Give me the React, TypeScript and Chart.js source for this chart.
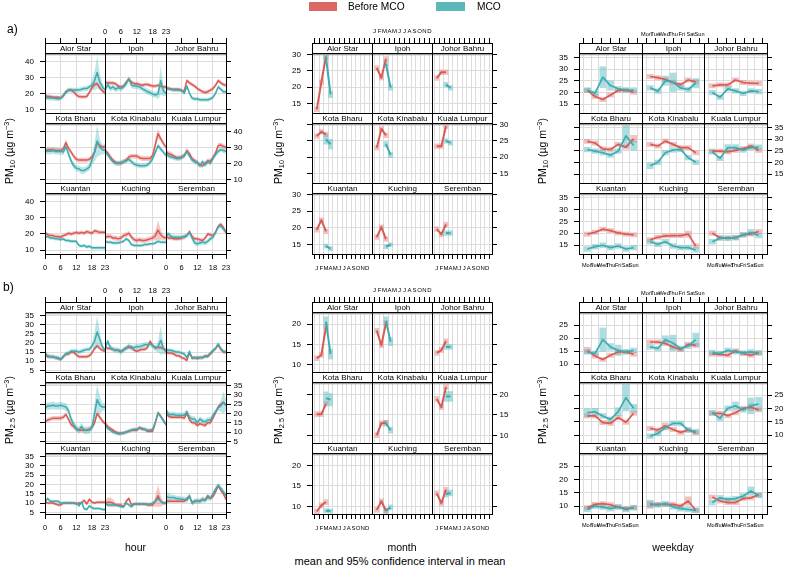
import React, { useEffect, useRef } from "react";
import { Chart, registerables } from "chart.js";

Chart.register(...registerables);

// ---------------- data ----------------
const cities = ["Alor Star", "Ipoh", "Johor Bahru", "Kota Bharu", "Kota Kinabalu", "Kuala Lumpur", "Kuantan", "Kuching", "Seremban"];
const seriesNames = ["Before MCO", "MCO"];
const hours = [0, 1, 2, 3, 4, 5, 6, 7, 8, 9, 10, 11, 12, 13, 14, 15, 16, 17, 18, 19, 20, 21, 22, 23];
const hourTicks = [0, 6, 12, 18, 23];
const monthTicks = [1, 2, 3, 4, 5, 6, 7, 8, 9, 10, 11, 12];
const monthTickLabels = ["J", "F", "M", "A", "M", "J", "J", "A", "S", "O", "N", "D"];
const monthsBefore = [1, 2, 3];
const monthsMco = [3, 4];
const weekdays = [1, 2, 3, 4, 5, 6, 7];
const weekdayTickLabels = ["Mon", "Tue", "Wed", "Thu", "Fri", "Sat", "Sun"];
const pm10HourTicks = [10, 20, 30, 40];
const pm10MonthTicks = [15, 20, 25, 30];
const pm10DayTicks = [15, 20, 25, 30, 35];
const pm25HourTicks = [5, 10, 15, 20, 25, 30, 35];
const pm25MonthTicks = [10, 15, 20];
const pm25DayTicks = [10, 15, 20, 25];

const pm10HourBefore = [
  [19, 18, 18, 17.5, 17.5, 17.5, 17, 18.5, 21, 22, 22, 21, 19, 18, 17.8, 17.8, 18, 20.5, 23.5, 25.5, 26, 23.5, 21.5, 20],
  [27, 26.5, 26.5, 26.5, 26, 24.5, 24, 24.5, 27, 29, 27, 26, 26, 25.5, 25, 25.5, 25.5, 25, 24.5, 24.5, 25, 24.5, 24, 24],
  [23, 23, 22.5, 22.5, 22.5, 22.5, 21.5, 21.5, 28, 26.5, 25.5, 24.5, 23, 22, 21, 20.5, 21, 22, 23, 25, 28, 26.5, 25.5, 25],
  [27, 28.5, 28.5, 28.5, 28, 28, 28, 29, 33, 29.5, 27, 24.5, 22.5, 22, 22, 22, 22, 22.5, 24, 27, 33, 31, 30, 30.5],
  [28, 26.5, 24, 22, 20.5, 20, 20, 21, 22, 24, 24.5, 24.5, 24.5, 23.5, 23, 23, 23, 23, 25, 32, 38.5, 35.5, 32.5, 30],
  [27.5, 26, 25.5, 24.5, 23.5, 23.5, 24, 25, 28, 26, 23, 21.5, 20.5, 19, 18.5, 20, 21.5, 21.5, 23.5, 26.5, 31, 31.5, 30.5, 30],
  [21, 19.5, 19, 19, 18.5, 18.5, 18, 19, 19.5, 20.5, 20, 20.5, 21, 20.5, 21, 20.5, 21.5, 21, 20.5, 22, 21.5, 21, 21, 21],
  [18, 18.5, 18.5, 17.5, 17.5, 17, 17.5, 19, 19.5, 20.5, 18, 16.5, 16, 16.5, 16, 16, 16.5, 17, 17.5, 19, 22.5, 19.5, 18, 17.5],
  [18.5, 17.5, 17.5, 17, 17, 17, 17.5, 18.5, 19, 21.5, 18.5, 17, 17, 16.5, 16, 17.5, 20, 19.5, 19, 21, 24.5, 26, 24, 21],
];
const pm10HourMco = [
  [18, 17, 17, 17, 16.8, 16.5, 17, 18.5, 20.5, 22, 22, 22, 22, 22, 22.5, 23, 23, 24, 25, 28, 33, 27, 24, 22],
  [22, 25.5, 23, 24, 22.5, 23.5, 23, 24, 26, 29, 25, 24.5, 24.5, 24, 23, 22, 21, 20.5, 19.5, 19, 19.5, 28, 21.5, 20],
  [23, 23, 22.5, 22, 22, 22, 22, 20, 24.5, 20, 17, 16.5, 16.5, 16, 16, 16, 16, 16.5, 17.5, 20, 24, 22.5, 21, 21],
  [28, 27.5, 27.5, 28, 27.5, 27.5, 27.5, 27, 30.5, 26, 21.5, 18.5, 17, 16.5, 15.5, 15.5, 16.5, 17.5, 22, 27, 34, 30, 28.5, 28],
  [27, 25.5, 23, 21, 20, 20, 20.5, 21, 21.5, 22.5, 21, 19.5, 19, 18.5, 18.5, 18.5, 19, 20.5, 23, 27, 31, 29, 27, 25],
  [26.5, 24.5, 24, 23.5, 23, 23, 23.5, 24.5, 27.5, 24.5, 22, 21, 20.5, 18.5, 21, 19, 21, 20, 23, 25.5, 27.5, 28.5, 28, 27.5],
  [18, 18.5, 17.5, 17.5, 17, 17, 16.5, 17, 16, 16, 15.5, 15.5, 15.5, 13, 12.5, 13, 12, 12.5, 11.5, 11.5, 11.5, 11.5, 11.5, 11.5],
  [15.5, 15, 15, 14.5, 14.5, 14.5, 15, 15.5, 17, 16, 13.5, 13, 13, 13, 13, 13.5, 13.5, 14, 14, 14.5, 15.5, 15, 15, 15],
  [19, 20, 18.5, 18, 18, 18, 18, 18, 19, 21, 17.5, 14.5, 14, 14.5, 15, 14.5, 15.5, 17, 18, 21, 24.5, 25, 23, 21],
];
const pm10HourCiBefore = [1.2, 1.2, 1.2, 1.5, 1.5, 1.5, 1.2, 1.5, 1.2];
const pm10HourCiMco = [1.5, 1.8, 1.2, 2, 1.5, 1.5, 1, 1, 1.5];
const pm10HourCiWideBefore = [[], [], [], [[8, 2]], [[19, 3], [20, 3]], [], [], [[19, 3], [20, 6], [21, 3]], []];
const pm10HourCiWideMco = [
  [[18, 3], [19, 6], [20, 10], [21, 5], [22, 2.5]],
  [[20, 3], [21, 9], [22, 3]],
  [],
  [[18, 3], [19, 6], [20, 10], [21, 5], [22, 3]],
  [], [], [], [], [],
];

const pm25HourBefore = [
  [13.5, 12.5, 12.5, 12.5, 12, 11.5, 11, 12.5, 14, 14, 15, 15, 13.5, 12.5, 12.5, 12.5, 12.5, 13, 14.5, 17, 18.5, 17, 16, 15.5],
  [18, 17, 17, 16.5, 16, 16, 15.5, 16, 17.5, 17.5, 18, 16, 15.5, 16, 16.5, 16.5, 17.5, 21, 18.5, 17.5, 17.5, 17.5, 17, 16],
  [15, 14.5, 14.5, 14, 13, 13, 12, 11.5, 10.5, 14.5, 12, 12, 11.5, 12, 12, 13, 12.5, 14, 15.5, 17, 19, 16.5, 15, 15],
  [15.5, 16.5, 17, 17.5, 17.5, 17.5, 17.5, 18, 19.5, 17, 14, 13, 11.5, 11, 11, 11, 11, 11.5, 12.5, 15, 20, 18, 16, 14.5],
  [15, 13, 12, 11, 10, 9.5, 9.5, 9.5, 10, 10.5, 11, 11, 11, 12.5, 11.5, 11.5, 10.5, 10.5, 10.5, 15, 20.5, 18.5, 16.5, 14],
  [20, 18.5, 18, 18, 18, 18, 18, 17.5, 20, 16.5, 15, 15, 13.5, 14.5, 14, 13.5, 15, 15, 17.5, 20.5, 23.5, 25, 26, 24.5],
  [10.5, 10, 10, 10, 9.5, 9, 9, 10, 10, 10, 10, 10, 9.5, 10, 10, 11.5, 9.5, 12, 10.5, 10, 10.5, 10.5, 10.5, 10.5],
  [10, 10.5, 10.5, 10, 9, 9, 9, 8, 11, 12.5, 9, 9.5, 9.5, 9.5, 9.5, 9.5, 9, 9, 9, 11, 14, 11, 10, 10],
  [11, 11, 11, 11, 11, 11, 11, 11, 12.5, 13.5, 10, 11, 11, 11, 12, 11.5, 14, 12.5, 13.5, 16, 19.5, 17, 15, 12],
];
const pm25HourMco = [
  [14.5, 13, 12.5, 12.5, 12, 12, 11, 12.5, 14, 14.5, 15.5, 15.5, 15.5, 15, 15.5, 16, 16.5, 16.5, 18.5, 21, 26, 22, 18, 16],
  [17, 21, 17.5, 16.5, 16, 16, 15, 16.5, 17, 18.5, 17, 17.5, 18, 18, 18.5, 19, 19, 19.5, 18.5, 17, 18, 21.5, 17, 15],
  [16.5, 16, 16, 15.5, 15, 15, 14.5, 14, 12, 15.5, 11.5, 12, 12, 12, 12, 12.5, 13, 14.5, 16, 17, 19.5, 17, 15.5, 15],
  [23, 24, 24, 24.5, 24, 24, 24.5, 24, 23.5, 21.5, 17, 14, 12, 11, 13, 11, 11, 11, 12.5, 20, 27.5, 24.5, 23.5, 23.5],
  [14, 12, 11, 10, 9.5, 9, 9, 9.5, 10, 10.5, 11, 11.5, 11.5, 12, 12, 11.5, 11, 11, 11.5, 15.5, 20, 18.5, 16, 14],
  [22, 19.5, 19.5, 19.5, 19, 19, 19, 19, 21, 18, 17, 17, 15, 17, 16, 15.5, 16.5, 16.5, 19, 21, 23, 24, 26, 24.5],
  [10.5, 12.5, 11, 11, 11, 11, 10, 10, 10, 10, 10, 10, 10, 8.5, 10.5, 7, 6.5, 8.5, 7.5, 7, 7, 7, 6.5, 6.5],
  [10, 9, 9, 9, 9, 8.5, 8, 8, 10, 9, 8, 9.5, 9.5, 9.5, 9.5, 9.5, 9.5, 9.5, 10, 11, 12.5, 11, 10, 10],
  [13.5, 13, 13, 13, 12.5, 12.5, 12, 12, 11.5, 14, 10, 11, 11, 11, 12, 11.5, 13, 12.5, 15, 17.5, 19.5, 18, 16, 14],
];
const pm25HourCiBefore = [1, 1, 1, 1.2, 1, 1, 0.8, 1, 1];
const pm25HourCiMco = [1.2, 1.5, 1, 2, 1, 1.5, 0.8, 0.8, 1.5];
const pm25HourCiWideBefore = [[], [], [], [], [], [], [], [[1, 2.5], [2, 2.5], [3, 2], [19, 3], [20, 6], [21, 3]], []];
const pm25HourCiWideMco = [
  [[19, 5], [20, 9], [21, 4]],
  [[20, 3], [21, 8], [22, 3]],
  [],
  [[19, 6], [20, 8], [21, 5]],
  [],
  [[21, 3], [22, 6], [23, 3]],
  [], [],
  [[0, 3], [1, 2.5]],
];

const pm10MonthBefore = [[13.2, 21.6, 29.4], [25.9, 22.9, 28.7], [22.8, 24.6, 24.6], [26.5, 27.8, 27], [22.9, 28.7, 26.7], [23.4, 23.4, 29.5], [19.4, 22.3, 18.9], [17.2, 20.2, 16.6], [19.6, 18, 21]];
const pm10MonthMco = [[29.2, 17.8], [27.2, 19.9], [20.8, 19.8], [25.5, 24], [24, 20.7], [25, 24.4], [14.5, 13.7], [14.3, 14.9], [18.4, 18.4]];
const pm10MonthCiBefore = [0.7, 0.7, 0.7, 0.7, 0.7, 0.7, 0.7, 0.7, 0.7];
const pm10MonthCiMco = [1, 0.8, 0.7, 1.5, 0.8, 0.7, 0.6, 0.6, 0.7];
const pm25MonthBefore = [[11.6, 12.4, 19.3], [18.4, 14.8, 20.3], [12.9, 13.6, 15.8], [15.2, 15.2, 17.7], [10.1, 13, 13.1], [18.9, 16.9, 21.8], [8.8, 10.3, 11.1], [9.2, 11.3, 9], [13.2, 10.8, 14.1]];
const pm25MonthMco = [[20.6, 12.6], [20.8, 15.7], [14.4, 14.4], [19.1, 18.7], [13, 11.3], [19.5, 19.5], [9, 8.9], [9, 9.8], [13, 13.3]];
const pm25MonthCiBefore = [0.6, 0.6, 0.6, 0.6, 0.6, 0.6, 0.6, 0.6, 0.6];
const pm25MonthCiMco = [1.2, 1, 0.6, 1.5, 0.7, 1.2, 0.5, 0.6, 0.7];

const pm10DayBefore = [
  [20.9, 18.3, 17, 18.9, 20.9, 21, 20.1],
  [26.9, 26.4, 25.6, 24.4, 23.4, 25.4, 24.6],
  [22.9, 23.3, 23.3, 25.4, 24.3, 24, 23.9],
  [29.1, 28.4, 25.9, 25.6, 27.8, 26.6, 30.2],
  [27.8, 27.1, 29.2, 27.8, 26.4, 26.4, 24.2],
  [24.9, 24.9, 24.6, 25.2, 26, 27.1, 25.2],
  [19.6, 20.4, 21.7, 21.1, 20.1, 19.6, 19.3],
  [17.2, 18.3, 18.9, 19, 19, 19.6, 14.6],
  [20, 18.1, 17.9, 18.1, 19.3, 19.7, 20.7],
];
const pm10DayMco = [
  [21.1, 19.7, 26.6, 23, 21.6, 21.1, 21.1],
  [22, 20.6, 25.1, 24.4, 22, 21.3, 24],
  [20, 18, 21.6, 20.7, 19.6, 20.7, 20.4],
  [25.6, 24.9, 24.2, 23.2, 24.9, 31.5, 27.3],
  [18.6, 20.1, 24.2, 25.4, 25.6, 22.1, 20.1],
  [24.6, 21.8, 26.4, 26.4, 25.4, 26.4, 26.6],
  [13.3, 14.3, 14.9, 13.9, 14.6, 13.3, 13.9],
  [16.4, 15.3, 16.4, 14.6, 13.9, 13.9, 12.9],
  [16.4, 17.9, 17.9, 18.1, 19.3, 20.3, 19],
];
const pm10DayCiBefore = 0.9;
const pm10DayCiMco = 1.0;
const pm10DayCiWideBefore = [[], [], [], [[6, 1.5]], [], [], [], [[5, 1.3]], []];
const pm10DayCiWideMco = [[[2, 4.5], [3, 2]], [[2, 2], [3, 4], [6, 2]], [], [[5, 5], [6, 2]], [[0, 1.3]], [[2, 1.3], [3, 1.3]], [], [], [[5, 1.3]]];

const pm25DayBefore = [
  [15.3, 13.1, 11.8, 13.4, 14.7, 14.7, 13.8],
  [18.5, 18.5, 17.9, 16.6, 15.6, 17.6, 17.2],
  [13.8, 13.8, 13.4, 15.1, 14.1, 13.4, 14.3],
  [17.2, 17.2, 14.7, 14.4, 16.6, 14.8, 18.2],
  [12.5, 11.9, 13.4, 12.1, 11, 11.9, 10.9],
  [18.2, 18.2, 17.3, 18.4, 20.1, 20.5, 19.5],
  [9.4, 10.6, 10.9, 10.5, 9.6, 9, 9.4],
  [10.4, 10.6, 10.6, 10.6, 10, 11.9, 8.4],
  [13.4, 11.9, 11.3, 11.3, 12.8, 13.1, 14.2],
];
const pm25DayMco = [
  [14.7, 14.1, 19.4, 16.6, 15.3, 14.7, 15.3],
  [16.6, 16, 19.4, 18.1, 16, 16.9, 19.4],
  [14.5, 14.1, 15.3, 14.7, 14.3, 14.7, 14.3],
  [18.4, 18.8, 17.2, 15.9, 18.8, 24.1, 20.1],
  [9.6, 10.6, 12.8, 14.4, 14.4, 11.9, 11.3],
  [18.4, 16.3, 20.1, 21, 19.5, 21, 21.7],
  [8.7, 10, 9.6, 9, 9.7, 8.7, 9.4],
  [10.9, 10.4, 10.9, 9.7, 9, 8.7, 8.4],
  [11.3, 13.1, 12.5, 12.8, 13.8, 15.7, 14],
];
const pm25DayCiBefore = 0.8;
const pm25DayCiMco = 0.9;
const pm25DayCiWideBefore = [[[0, 1.2]], [], [], [], [[2, 1.2]], [[5, 1.3]], [], [[0, 1.3], [5, 1.6]], []];
const pm25DayCiWideMco = [[[2, 4.5], [3, 1.3], [4, 2]], [[2, 1.5], [3, 3], [6, 2.5]], [], [[0, 1.5], [1, 1.3], [4, 1.5], [5, 5], [6, 1.5]], [], [[3, 1.5], [5, 3], [6, 2.5]], [], [[0, 1.3]], [[5, 1.5]]];

// ---------------- styling / layout ----------------
const FONT = "'Liberation Sans', Arial, Helvetica, sans-serif";
const STRIP = 10;
const ML = 36, MR = 36, MT = 24, MB = 24, TL = 5;
const BLACK = "#000000";
const GRID = "#dcdcdc";
const RED = "#da5a54";
const TEAL = "#3eabb0";
const RED_BAND = "rgba(228,110,104,0.38)";
const TEAL_BAND = "rgba(80,186,191,0.38)";
const RED_BAR = "rgba(228,118,112,0.45)";
const TEAL_BAR = "rgba(88,190,195,0.5)";
const RED_KEY = "#dc6862";
const TEAL_KEY = "#5cb7bb";
const YFONT = 8;
const ROWS_A = [43, 113, 183, 254];
const ROWS_B = [302, 372, 443, 514];

const KINDS: any = {
  hour: { xmin: 0, xmax: 23, xticks: hourTicks, label: (v: number) => String(v), font: 7.5, topPad: 1.8, botPad: 4.4, lineW: 1.5 },
  month: { xmin: 0.5, xmax: 12.5, xticks: monthTicks, label: (v: number) => monthTickLabels[v - 1], font: 6, topPad: 2.7, botPad: 6, lineW: 2, barW: 4 },
  weekday: { xmin: 0.5, xmax: 7.5, xticks: weekdays, label: (v: number) => weekdayTickLabels[v - 1], font: 5.6, topPad: 0.6, botPad: 3.4, lineW: 1.7, barW: 6 },
};

const GROUPS: any[] = [
  { kind: "hour", pol: "pm10", x0: 45, w: 181, rows: ROWS_A, ymin: 7.7, ymax: 45.2, yticks: pm10HourTicks },
  { kind: "month", pol: "pm10", x0: 311.7, w: 180.6, rows: ROWS_A, ymin: 12.1, ymax: 30.5, yticks: pm10MonthTicks },
  { kind: "weekday", pol: "pm10", x0: 578.7, w: 188.6, rows: ROWS_A, ymin: 11.2, ymax: 37, yticks: pm10DayTicks },
  { kind: "hour", pol: "pm25", x0: 45, w: 181, rows: ROWS_B, ymin: 4.1, ymax: 37, yticks: pm25HourTicks },
  { kind: "month", pol: "pm25", x0: 311.7, w: 180.6, rows: ROWS_B, ymin: 8.2, ymax: 23, yticks: pm25MonthTicks },
  { kind: "weekday", pol: "pm25", x0: 578.7, w: 188.6, rows: ROWS_B, ymin: 7, ymax: 30, yticks: pm25DayTicks },
];

function ciAt(base: number, wide: number[][], i: number) {
  for (const s of wide) if (s[0] === i) return s[1];
  return base;
}

const pts = (xs: number[], ys: number[]) => xs.map((x, i) => ({ x, y: ys[i] }));

function lineDs(xs: number[], ys: number[], color: string, w: number, order: number, label: string) {
  return { type: "line", label, data: pts(xs, ys), borderColor: color, borderWidth: w, pointRadius: 0, fill: false, tension: 0, order, borderJoinStyle: "round" };
}

function bandDs(xs: number[], ys: number[], hw: number[], color: string, order: number) {
  return [
    { type: "line", data: xs.map((x, i) => ({ x, y: ys[i] + hw[i] })), borderWidth: 0, pointRadius: 0, fill: false, order, tension: 0 },
    { type: "line", data: xs.map((x, i) => ({ x, y: ys[i] - hw[i] })), borderWidth: 0, pointRadius: 0, fill: "-1", backgroundColor: color, order, tension: 0 },
  ];
}

function barDs(xs: number[], ys: number[], hw: number[], color: string, w: number, order: number) {
  return {
    type: "bar",
    data: xs.map((x, i) => ({ x, y: [ys[i] - hw[i], ys[i] + hw[i]] })),
    backgroundColor: color, borderWidth: 0, barThickness: w, grouped: false, order,
  };
}

function datasetsFor(g: any, idx: number) {
  const K = KINDS[g.kind];
  if (g.kind === "hour") {
    const b = g.pol === "pm10" ? pm10HourBefore[idx] : pm25HourBefore[idx];
    const m = g.pol === "pm10" ? pm10HourMco[idx] : pm25HourMco[idx];
    const bBase = g.pol === "pm10" ? pm10HourCiBefore[idx] : pm25HourCiBefore[idx];
    const mBase = g.pol === "pm10" ? pm10HourCiMco[idx] : pm25HourCiMco[idx];
    const bWide = g.pol === "pm10" ? pm10HourCiWideBefore[idx] : pm25HourCiWideBefore[idx];
    const mWide = g.pol === "pm10" ? pm10HourCiWideMco[idx] : pm25HourCiWideMco[idx];
    const bhw = hours.map((_, i) => ciAt(bBase, bWide as any, i));
    const mhw = hours.map((_, i) => ciAt(mBase, mWide as any, i));
    return [
      ...bandDs(hours, b, bhw, RED_BAND, 4),
      ...bandDs(hours, m, mhw, TEAL_BAND, 3),
      lineDs(hours, b, RED, K.lineW, 2, seriesNames[0]),
      lineDs(hours, m, TEAL, K.lineW, 1, seriesNames[1]),
    ];
  }
  if (g.kind === "month") {
    const b = g.pol === "pm10" ? pm10MonthBefore[idx] : pm25MonthBefore[idx];
    const m = g.pol === "pm10" ? pm10MonthMco[idx] : pm25MonthMco[idx];
    const bh = g.pol === "pm10" ? pm10MonthCiBefore[idx] : pm25MonthCiBefore[idx];
    const mh = g.pol === "pm10" ? pm10MonthCiMco[idx] : pm25MonthCiMco[idx];
    return [
      barDs(monthsBefore, b, monthsBefore.map(() => bh), RED_BAR, K.barW, 4),
      barDs(monthsMco, m, monthsMco.map(() => mh), TEAL_BAR, K.barW, 3),
      lineDs(monthsBefore, b, RED, K.lineW, 2, seriesNames[0]),
      lineDs(monthsMco, m, TEAL, K.lineW, 1, seriesNames[1]),
    ];
  }
  const b = g.pol === "pm10" ? pm10DayBefore[idx] : pm25DayBefore[idx];
  const m = g.pol === "pm10" ? pm10DayMco[idx] : pm25DayMco[idx];
  const bBase = g.pol === "pm10" ? pm10DayCiBefore : pm25DayCiBefore;
  const mBase = g.pol === "pm10" ? pm10DayCiMco : pm25DayCiMco;
  const bWide = g.pol === "pm10" ? pm10DayCiWideBefore[idx] : pm25DayCiWideBefore[idx];
  const mWide = g.pol === "pm10" ? pm10DayCiWideMco[idx] : pm25DayCiWideMco[idx];
  return [
    barDs(weekdays, b, weekdays.map((_, i) => ciAt(bBase, bWide as any, i)), RED_BAR, K.barW, 4),
    barDs(weekdays, m, weekdays.map((_, i) => ciAt(mBase, mWide as any, i)), TEAL_BAR, K.barW, 3),
    lineDs(weekdays, b, RED, K.lineW, 2, seriesNames[0]),
    lineDs(weekdays, m, TEAL, K.lineW, 1, seriesNames[1]),
  ];
}

const stripPlugin = {
  id: "stripDeco",
  afterDraw(chart: any, _args: any, opts: any) {
    const { ctx, chartArea: a } = chart;
    const L = a.left, R = a.right, T = a.top, B = a.bottom;
    ctx.save();
    ctx.fillStyle = "#ffffff";
    ctx.fillRect(L, T - STRIP, R - L, STRIP);
    ctx.strokeStyle = "#a0a0a0";
    ctx.lineWidth = 1.2;
    ctx.beginPath();
    ctx.moveTo(L, T + 1.7);
    ctx.lineTo(R, T + 1.7);
    ctx.stroke();
    ctx.strokeStyle = BLACK;
    ctx.lineWidth = 1;
    ctx.strokeRect(L + 0.5, T - STRIP + 0.5, R - L, B - T + STRIP);
    ctx.beginPath();
    ctx.moveTo(L, T + 0.5);
    ctx.lineTo(R + 1, T + 0.5);
    ctx.stroke();
    ctx.fillStyle = BLACK;
    ctx.font = `8px ${FONT}`;
    ctx.textAlign = "center";
    ctx.textBaseline = "middle";
    ctx.fillText(opts.title, (L + R) / 2 + 0.5, T - STRIP / 2 + 0.5);
    ctx.restore();
  },
};

function makeConfig(g: any, r: number, c: number, idx: number) {
  const K = KINDS[g.kind];
  const setTicks = (vals: number[]) => (s: any) => { s.ticks = vals.map((v) => ({ value: v })); };
  const xTick = { autoSkip: false, maxRotation: 0, minRotation: 0, color: BLACK, font: { family: FONT, size: K.font }, callback: (v: any) => K.label(Math.round(Number(v))) };
  const yTick = { autoSkip: false, color: BLACK, font: { family: FONT, size: YFONT }, callback: (v: any) => String(v) };
  return {
    type: "line",
    data: { datasets: datasetsFor(g, idx) },
    options: {
      animation: false,
      responsive: false,
      maintainAspectRatio: false,
      devicePixelRatio: 1,
      events: [],
      layout: { padding: 0 },
      plugins: { legend: { display: false }, tooltip: { enabled: false }, stripDeco: { title: cities[idx] } },
      scales: {
        x: {
          type: "linear", position: "bottom", min: K.xmin, max: K.xmax,
          afterBuildTicks: setTicks(K.xticks), afterFit: (s: any) => { s.height = MB; },
          border: { display: false },
          grid: { drawOnChartArea: true, color: GRID, lineWidth: 1, drawTicks: r === 2, tickLength: TL, tickColor: BLACK, tickWidth: 1 },
          ticks: { ...xTick, display: r === 2 && c !== 1, padding: K.botPad },
        },
        x2: {
          type: "linear", position: "top", min: K.xmin, max: K.xmax,
          afterBuildTicks: setTicks(K.xticks), afterFit: (s: any) => { s.height = MT + STRIP; },
          border: { display: false },
          grid: { drawOnChartArea: false, drawTicks: r === 0, tickLength: STRIP + TL, tickColor: BLACK, tickWidth: 1 },
          ticks: { ...xTick, display: r === 0 && c === 1, padding: K.topPad },
        },
        y: {
          type: "linear", position: "left", min: g.ymin, max: g.ymax,
          afterBuildTicks: setTicks(g.yticks), afterFit: (s: any) => { s.width = ML; },
          border: { display: false },
          grid: { drawOnChartArea: true, color: GRID, lineWidth: 1, drawTicks: c === 0, tickLength: TL, tickColor: BLACK, tickWidth: 1 },
          ticks: { ...yTick, display: c === 0 && r !== 1, padding: 6 },
        },
        y2: {
          type: "linear", position: "right", min: g.ymin, max: g.ymax,
          afterBuildTicks: setTicks(g.yticks), afterFit: (s: any) => { s.width = MR; },
          border: { display: false },
          grid: { drawOnChartArea: false, drawTicks: c === 2, tickLength: TL, tickColor: BLACK, tickWidth: 1 },
          ticks: { ...yTick, display: c === 2 && r === 1, padding: 2.5 },
        },
      },
    },
    plugins: [stripPlugin],
  };
}

function buildPanels() {
  const panels: any[] = [];
  GROUPS.forEach((g, gi) => {
    for (let r = 0; r < 3; r++) {
      for (let c = 0; c < 3; c++) {
        const idx = r * 3 + c;
        const cl = Math.round(g.x0 + (g.w * c) / 3);
        const cr = Math.round(g.x0 + (g.w * (c + 1)) / 3);
        const st = g.rows[r];
        const sb = g.rows[r + 1];
        panels.push({
          key: `${gi}-${idx}`,
          left: cl - ML, top: st - MT,
          width: cr - cl + ML + MR, height: sb - st + MT + MB,
          make: () => makeConfig(g, r, c, idx),
        });
      }
    }
  });
  return panels;
}

const PANELS = buildPanels();

function Txt({ x, y, size, children, center }: any) {
  return (
    <div style={{ position: "absolute", left: x, top: y, fontSize: size, lineHeight: 1, whiteSpace: "nowrap", transform: center ? "translate(-50%,-50%)" : "translate(0,-50%)" }}>
      {children}
    </div>
  );
}

function YTitle({ x, y, sub }: any) {
  return (
    <div style={{ position: "absolute", left: x, top: y, fontSize: 10.5, lineHeight: 1, whiteSpace: "nowrap", transform: "translate(-50%,-50%) rotate(-90deg)" }}>
      PM<span style={{ fontSize: "0.7em", verticalAlign: "-0.3em" }}>{sub}</span> (µg m<span style={{ fontSize: "0.7em", verticalAlign: "0.55em" }}>−3</span>)
    </div>
  );
}

export default function App() {
  const refs = useRef<(HTMLCanvasElement | null)[]>([]);
  useEffect(() => {
    const charts = PANELS.map((p, i) => new Chart(refs.current[i] as HTMLCanvasElement, p.make() as any));
    return () => charts.forEach((ch) => ch.destroy());
  }, []);
  return (
    <div style={{ position: "absolute", left: 0, top: 0, width: 789, height: 566, background: "#ffffff", overflow: "hidden", fontFamily: FONT, color: "#000" }}>
      {PANELS.map((p, i) => (
        <canvas
          key={p.key}
          ref={(el) => { refs.current[i] = el; }}
          width={p.width}
          height={p.height}
          style={{ position: "absolute", left: p.left, top: p.top, width: p.width, height: p.height }}
        />
      ))}
      <div style={{ position: "absolute", left: 309, top: 2, width: 28, height: 9, background: RED_KEY }} />
      <Txt x={348} y={7} size={10.2}>{seriesNames[0]}</Txt>
      <div style={{ position: "absolute", left: 436, top: 2, width: 29, height: 9, background: TEAL_KEY }} />
      <Txt x={477} y={7} size={10.2}>{seriesNames[1]}</Txt>
      <Txt x={7} y={29} size={12}>a)</Txt>
      <Txt x={3} y={287} size={12}>b)</Txt>
      <YTitle x={10} y={151} sub="10" />
      <YTitle x={279} y={151} sub="10" />
      <YTitle x={543} y={151} sub="10" />
      <YTitle x={10} y={410} sub="2.5" />
      <YTitle x={279} y={410} sub="2.5" />
      <YTitle x={543} y={410} sub="2.5" />
      <Txt x={135.5} y={547} size={10.5} center>hour</Txt>
      <Txt x={402} y={547} size={10.5} center>month</Txt>
      <Txt x={673} y={547} size={10.5} center>weekday</Txt>
      <Txt x={400} y={561} size={11} center>mean and 95% confidence interval in mean</Txt>
    </div>
  );
}
